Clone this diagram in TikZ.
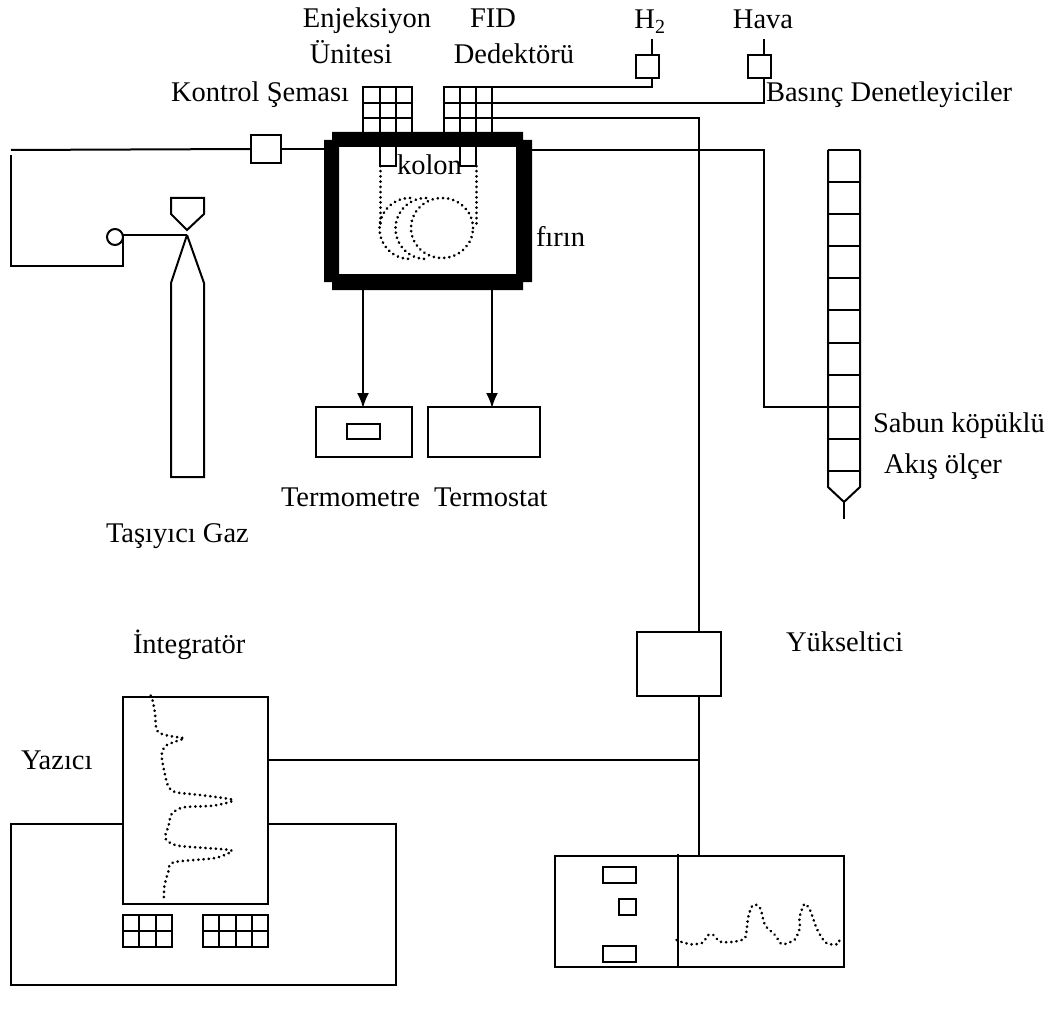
\documentclass[tikz,border=0pt]{standalone}
\usepackage{fontspec}
\setmainfont{Liberation Serif}
\usetikzlibrary{arrows.meta}
\tikzset{
  ln/.style={line width=2pt,line cap=butt,line join=miter},
  box/.style={draw,ln,rectangle,inner sep=0pt,outer sep=0pt},
  hid/.style={rectangle,inner sep=0pt,outer sep=0pt},
  lbl/.style={inner sep=0pt,outer sep=0pt,anchor=base,font=\fontsize{28.5}{28.5}\selectfont},
  lbll/.style={lbl,anchor=base west},
  dots/.style={line width=3pt,line cap=round,dash pattern=on 0.01pt off 5.2pt},
  ar/.style={ln,-{Latex[length=15pt,width=12pt]}}
}
\newcommand{\bx}[5]{\node[box,minimum width=#4pt-#2pt,minimum height=#5pt-#3pt] (#1) at ({(#2+#4)/2},{(#3+#5)/2}) {};}
\begin{document}
\begin{tikzpicture}[x=1pt,y=-1pt]
\useasboundingbox (0,0) rectangle (1059,1016);
% furnace
\node[hid,minimum width=208pt,minimum height=158pt] (furnace) at (428,211) {};
\fill[even odd rule] (332,132) -- (523,132) -- (523,140) -- (532,140) -- (532,282) -- (523,282) -- (523,290) -- (332,290) -- (332,282) -- (324,282) -- (324,140) -- (332,140) -- cycle
  (339,147) rectangle (516,274);
% injector / detector grids
\node[hid,minimum width=49pt,minimum height=45pt] (inj) at (387.5,109.5) {};
\node[hid,minimum width=48pt,minimum height=45pt] (fid) at (468,109.5) {};
\draw[ln] (363,132) -- (363,87) -- (412,87) -- (412,132)
  (380,87) -- (380,132) (396,87) -- (396,132) (363,103) -- (412,103) (363,118) -- (412,118);
\draw[ln] (444,132) -- (444,87) -- (492,87) -- (492,132)
  (460,87) -- (460,132) (476,87) -- (476,132) (444,103) -- (492,103) (444,118) -- (492,118);
% column stubs
\draw[ln] (380,147) -- (380,166) -- (396,166) -- (396,147);
\draw[ln] (460,147) -- (460,166) -- (476,166) -- (476,147);
\coordinate (cl) at (380,166);
\coordinate (cr) at (476,166);
\draw[dots] (cl) -- (380,227);
\draw[dots] (cr) -- (476,227);
\draw[dots] (410,198) arc[start angle=90,end angle=270,radius=30.5pt];
\draw[dots] (426,198) arc[start angle=90,end angle=270,radius=30.5pt];
\draw[dots] (442,228) circle[x radius=31pt,y radius=30pt];
% carrier line
\bx{valve}{251}{135}{281}{163}
\coordinate (tl) at (11,150);
\coordinate (tl2) at (11,155);
\coordinate (bl) at (11,266);
\coordinate (br) at (123,266);
\node[box,circle,minimum size=16pt] (reg) at (115,237) {};
\coordinate (rj) at (123,235);
\coordinate (tip) at (187,235);
\draw[ln] (tl) -- (valve.west);
\draw[ln] (valve.east) -- (valve.east -| furnace.west);
\draw[ln] (tl2) -- (bl) -- (br) -- (rj) -- (tip);
% cylinder
\draw[ln] (171,198) -- (204,198) -- (204,214) -- (187,230) -- (171,214) -- cycle;
\draw[ln] (tip) -- (171,283) -- (171,477) -- (204,477) -- (204,283) -- (tip);
% H2 / Hava
\bx{hh}{636}{55}{659}{78}
\bx{hava}{748}{55}{771}{78}
\coordinate (hhtop) at (652,39);
\coordinate (havatop) at (764,39);
\draw[ln] (hhtop) -- (652,55);
\draw[ln] (havatop) -- (764,55);
\draw[ln] (652,78) -- (652,87) -- (492,87);
\draw[ln] (764,78) -- (764,103) -- (492,103);
% amplifier
\bx{amp}{637}{632}{721}{696}
\draw[ln] (492,118) -- (699,118) -- (699,632);
% flow meter
\coordinate (fm) at (764,150);
\draw[ln] (furnace.east |- fm) -- (fm) -- (764,407) -- (828,407);
\draw[ln] (828,150) -- (828,487) -- (844,502) -- (860,487) -- (860,150);
\foreach \yy in {150,182,214,246,278,310,343,375,407,439,471} \draw[ln] (828,\yy) -- (860,\yy);
\draw[ln] (844,502) -- (844,519);
% thermometer / thermostat
\bx{tm}{316}{407}{412}{457}
\bx{tinner}{347}{424}{380}{439}
\bx{ts}{428}{407}{540}{457}
\draw[ar] (363,290) -- (363,408);
\draw[ar] (492,290) -- (492,408);
% integrator
\bx{paper}{123}{697}{268}{904}
\draw[ln] (123,824) -- (11,824) -- (11,985) -- (396,985) -- (396,824) -- (268,824);
\draw[ln] (268,760) -- (699,760);
\draw[ln] (699,696) -- (699,856);
\draw[ln] (123,915) rectangle (172,947) (139,915) -- (139,947) (156,915) -- (156,947) (123,931) -- (172,931);
\draw[ln] (203,915) rectangle (268,947) (219,915) -- (219,947) (236,915) -- (236,947) (252,915) -- (252,947) (203,931) -- (268,931);
\begin{scope}[shift={(100,680)},x=0.3333pt,y=-0.3333pt]
\draw[dots] plot[smooth,tension=0.45] coordinates {(152,47)(158,62)(165,100)(168,140)(175,157)(200,166)(235,172)(253,175)(240,180)(197,197)(185,225)(192,270)(205,320)(228,337)(300,345)(400,360)(340,377)(250,382)(215,402)(205,440)(195,470)(205,485)(240,498)(390,510)(380,522)(340,535)(220,547)(205,575)(193,620)(192,663)};
\end{scope}
% recorder
\bx{mon}{555}{856}{844}{967}
\draw[ln] (678,854) -- (678,967);
\bx{m1}{603}{867}{636}{883}
\bx{m2}{619}{899}{636}{915}
\bx{m3}{603}{946}{636}{962}
\begin{scope}[shift={(550,840)},x=0.3333pt,y=-0.3333pt]
\draw[dots] plot[smooth,tension=0.45] coordinates {(380,300)(395,306)(425,313)(458,308)(475,285)(490,285)(510,305)(545,306)(575,300)(587,290)(595,230)(607,197)(620,195)(632,207)(645,255)(675,285)(692,310)(705,312)(735,298)(750,262)(748,235)(763,192)(780,210)(800,265)(820,300)(835,312)(865,312)(868,300)};
\end{scope}
% labels
\node[lbl] (l1) at (367,28) {Enjeksiyon};
\node[lbl] (l2) at (351,64) {Ünitesi};
\node[lbl] (l3) at (493,28) {FID};
\node[lbl] (l4) at (514,64) {Dedektörü};
\node[lbl] (l5) at (650,29) {H\textsubscript{2}};
\node[lbl] (l6) at (763,29) {Hava};
\node[lbll] (l7) at (171,102) {Kontrol Şeması};
\node[lbll] (l8) at (766,102) {Basınç Denetleyiciler};
\node[lbl] (l9) at (429.5,175) {kolon};
\node[lbll] (l10) at (536,247) {fırın};
\node[lbll] (l11) at (873,432) {Sabun köpüklü};
\node[lbll] (l12) at (884,473) {Akış ölçer};
\node[lbll] (l13) at (281,506) {Termometre};
\node[lbll] (l14) at (434,506) {Termostat};
\node[lbll] (l15) at (106,542) {Taşıyıcı Gaz};
\node[lbll] (l16) at (133,653) {İntegratör};
\node[lbll] (l17) at (786,651) {Yükseltici};
\node[lbll] (l18) at (21,769) {Yazıcı};
\end{tikzpicture}
\end{document}
